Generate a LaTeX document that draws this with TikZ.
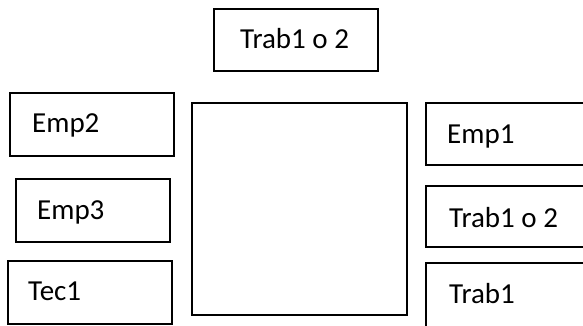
\documentclass[tikz,border=0pt]{standalone}
\usepackage{fontspec}
\setmainfont{Carlito}
\tikzset{
  box/.style={draw=black, line width=1.4pt, fill=white},
  lbl/.style={anchor=base west, inner sep=0pt, font=\fontsize{29}{32}\selectfont},
}
\begin{document}
\begin{tikzpicture}[x=1pt, y=-1pt]
\useasboundingbox (0,0) rectangle (583,325);
\clip (0,0) rectangle (583,325);
% boxes
\draw[box] (214,9) rectangle (378,71) coordinate (top);
\draw[box] (10,93) rectangle (174,156) coordinate (emp2);
\draw[box] (16,179) rectangle (170,242) coordinate (emp3);
\draw[box] (8,261) rectangle (172,324) coordinate (tec1);
\draw[box] (192,103) rectangle (407,315) coordinate (center);
\draw[box] (426,103) rectangle (600,165) coordinate (emp1);
\draw[box] (426,186) rectangle (600,247) coordinate (trabr);
\draw[box] (426,263) rectangle (600,340) coordinate (trab1);
% labels
\node[lbl] (ltop) at (240,48) {Trab1 o 2};
\node[lbl] (lemp2) at (32,132) {Emp2};
\node[lbl] (lemp3) at (37,219) {Emp3};
\node[lbl] (ltec1) at (28,300) {Tec1};
\node[lbl] (lemp1) at (447,143) {Emp1};
\node[lbl] (ltrabr) at (449,227) {Trab1 o 2};
\node[lbl] (ltrab1) at (449,303) {Trab1};
\end{tikzpicture}
\end{document}
